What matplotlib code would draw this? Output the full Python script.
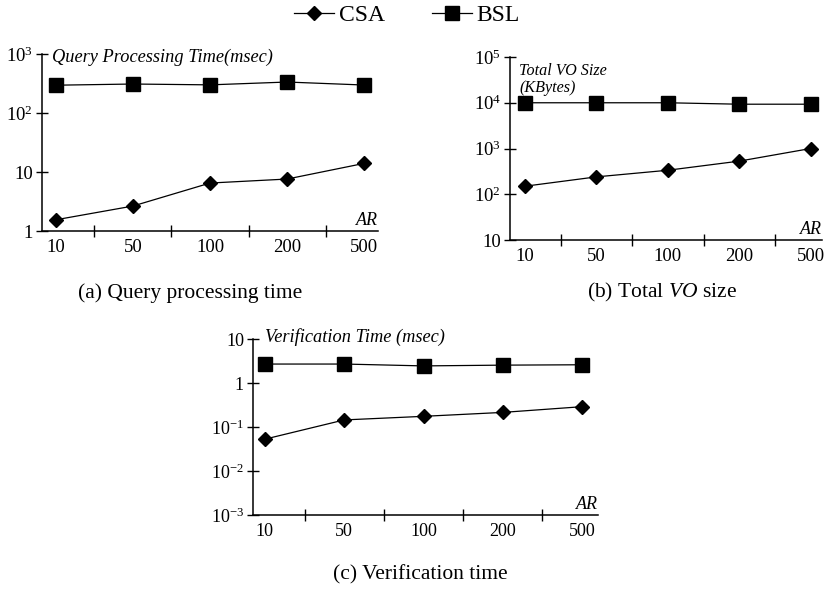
import matplotlib
matplotlib.use('Agg')
import matplotlib.pyplot as plt
from matplotlib.lines import Line2D

plt.rcParams['font.family'] = ['Liberation Serif', 'DejaVu Serif']
plt.rcParams['mathtext.fontset'] = 'custom'
plt.rcParams['mathtext.rm'] = 'Liberation Serif'
plt.rcParams['mathtext.it'] = 'Liberation Serif:italic'

ar_labels = ['10', '50', '100', '200', '500']

# (a) query processing time (msec)
qpt_csa = [1.55, 2.65, 6.5, 7.6, 14]
qpt_bsl = [296, 310, 300, 335, 298]

# (b) total VO size (KBytes)
vo_csa = [150, 240, 335, 530, 1000]
vo_bsl = [10000, 10000, 10000, 9300, 9300]

# (c) verification time (msec)
vt_csa = [0.053, 0.145, 0.175, 0.215, 0.29]
vt_bsl = [2.7, 2.7, 2.45, 2.55, 2.6]

fig = plt.figure(figsize=(8.27, 5.89), dpi=100)


def panel(rect, csa, bsl, ylim, yticks, ylabels, tick_fs, title, title_fs, title_xy, xlim):
    ax = fig.add_axes(rect)
    x = range(len(ar_labels))
    ax.plot(x, bsl, color='black', lw=0.9, marker='s', ms=9.5, clip_on=False)
    ax.plot(x, csa, color='black', lw=0.9, marker='D', ms=7, clip_on=False)
    ax.set_yscale('log')
    ax.set_ylim(*ylim)
    ax.set_xlim(*xlim)
    ax.set_yticks(yticks)
    ax.set_yticklabels(ylabels, fontsize=tick_fs)
    ax.minorticks_off()
    ax.set_xticks([0.5, 1.5, 2.5, 3.5])
    ax.set_xticklabels([])
    ax.set_xticks(list(x), minor=True)
    ax.set_xticklabels(ar_labels, minor=True, fontsize=tick_fs)
    ax.tick_params(axis='x', which='minor', length=0, pad=6)
    ax.tick_params(axis='both', which='major', direction='inout', length=9, width=1)
    ax.tick_params(axis='y', pad=2)
    for s in ['top', 'right']:
        ax.spines[s].set_visible(False)
    for s in ['left', 'bottom']:
        ax.spines[s].set_linewidth(1.1)
    ax.text(title_xy[0], title_xy[1], title, transform=ax.transAxes, fontsize=title_fs,
            style='italic', va='top', ha='left', linespacing=1.05)
    ax.text(1.0, 0.01, 'AR', transform=ax.transAxes, fontsize=13, style='italic',
            ha='right', va='bottom')
    return ax


panel([0.0508, 0.6078, 0.4063, 0.3005], qpt_csa, qpt_bsl, (1, 1000),
      [1, 10, 100, 1000], ['1', '10', '10$^2$', '10$^3$'], 13.5,
      'Query Processing Time(msec)', 13.2, (0.03, 1.03), (-0.18, 4.18))

panel([0.6167, 0.5925, 0.3773, 0.3107], vo_csa, vo_bsl, (10, 1e5),
      [10, 100, 1000, 1e4, 1e5], ['10', '10$^2$', '10$^3$', '10$^4$', '10$^5$'], 13.5,
      'Total VO Size\n(KBytes)', 11.6, (0.03, 0.965), (-0.21, 4.16))

panel([0.3059, 0.1256, 0.4172, 0.2988], vt_csa, vt_bsl, (1e-3, 10),
      [1e-3, 1e-2, 1e-1, 1, 10], ['10$^{-3}$', '10$^{-2}$', '10$^{-1}$', '1', '10'], 13,
      'Verification Time (msec)', 13.2, (0.035, 1.06), (-0.15, 4.2))

handles = [Line2D([], [], color='black', lw=0.9, marker='D', ms=7),
           Line2D([], [], color='black', lw=0.9, marker='s', ms=9.5)]
fig.legend(handles, ['CSA', 'BSL'], loc='center', bbox_to_anchor=(0.492, 0.974), ncol=2,
           frameon=False, fontsize=17, handlelength=1.7, handletextpad=0.2,
           columnspacing=2.0, borderpad=0)

fig.text(0.23, 0.503, '(a) Query processing time', fontsize=15.5, ha='center', va='center')
fig.text(0.80, 0.503, '(b) Total $\\it{VO}$ size', fontsize=15.5, ha='center', va='center')
fig.text(0.508, 0.024, '(c) Verification time', fontsize=15.5, ha='center', va='center')

fig.savefig('out.png', dpi=100)
